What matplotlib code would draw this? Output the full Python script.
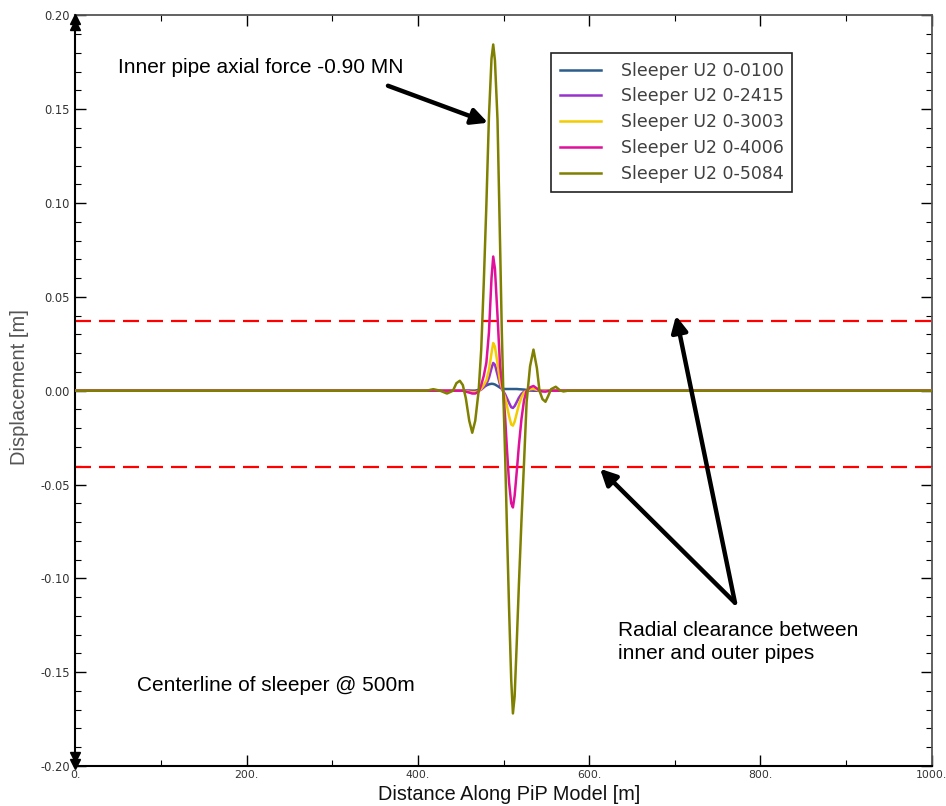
import matplotlib
matplotlib.use("Agg")
import matplotlib.pyplot as plt
from matplotlib.ticker import MultipleLocator, FuncFormatter

# ---------------- data ----------------
distance = [0, 400, 410, 418, 426, 434, 441, 445, 449, 452.5, 456, 460, 463.5, 467, 471, 474, 477,
            480, 483, 486, 488, 490, 493, 496, 498, 500, 502, 504, 506.5, 509, 511, 513,
            515.5, 518, 521, 524, 527, 531, 535, 539, 542, 545.5, 549, 552, 555.5, 561,
            566, 570, 575, 580, 600, 1000]

u2_0100 = [0, 0, 0, 0, 0, 0, 0, 0, 0, 0, 0, 0, 0, 0, 0.0005, 0.0012, 0.0020,
           0.0028, 0.0034, 0.0037, 0.0036, 0.0033, 0.0025, 0.0016, 0.0012, 0.0010, 0.0009, 0.0009, 0.0009, 0.0009, 0.0009, 0.0009,
           0.0009, 0.0008, 0.0007, 0.0006, 0.0004, 0.0001, 0, 0, 0, 0, 0, 0, 0, 0,
           0, 0, 0, 0, 0, 0]

u2_2415 = [0, 0, 0, 0, 0, 0, 0, 0, 0, 0, 0, 0, -0.0002, -0.0002, 0, 0.0006, 0.0018,
           0.0035, 0.0068, 0.0120, 0.0148, 0.0138, 0.0085, 0.0030, 0.0010, -0.0005, -0.0020, -0.0040, -0.0065, -0.0088, -0.0092, -0.0082,
           -0.0060, -0.0037, -0.0017, -0.0005, 0, 0.0004, 0.0005, 0.0002, 0, 0, 0, 0, 0, 0,
           0, 0, 0, 0, 0, 0]

u2_3003 = [0, 0, 0, 0, 0, 0, 0, 0, 0, 0, -0.0003, -0.0006, -0.0008, -0.0008, -0.0003, 0.0010, 0.0030,
           0.0055, 0.0110, 0.0200, 0.0254, 0.0235, 0.0145, 0.0050, 0.0018, -0.0010, -0.0040, -0.0080, -0.0135, -0.0180, -0.0186, -0.0165,
           -0.0120, -0.0075, -0.0035, -0.0010, 0, 0.0008, 0.0010, 0.0005, 0, 0, 0, 0, 0, 0,
           0, 0, 0, 0, 0, 0]

u2_4006 = [0, 0, 0, 0, 0, 0, 0, 0, 0, 0, -0.0005, -0.0010, -0.0015, -0.0015, -0.0005, 0.0030, 0.0080,
           0.0150, 0.0310, 0.0600, 0.0715, 0.0650, 0.0400, 0.0130, 0.0050, -0.0020, -0.0150, -0.0310, -0.0490, -0.0600, -0.0622, -0.0560,
           -0.0430, -0.0290, -0.0150, -0.0050, 0, 0.0018, 0.0025, 0.0012, 0, -0.0004, -0.0005, -0.0002, 0, 0,
           0, 0, 0, 0, 0, 0]

u2_5084 = [0, 0, 0, 0.0008, 0, -0.0015, 0, 0.0040, 0.0053, 0.0030, -0.0040, -0.0160, -0.0224, -0.0160, 0, 0.0220, 0.0580,
           0.0990, 0.1460, 0.1770, 0.1845, 0.1760, 0.1445, 0.0780, 0.0320, -0.0050, -0.0360, -0.0730, -0.1160, -0.1540, -0.1720, -0.1630,
           -0.1340, -0.1030, -0.0690, -0.0380, -0.0060, 0.0130, 0.0219, 0.0120, 0, -0.0045, -0.0059, -0.0030, 0.0008, 0.0021,
           0.0002, -0.0004, 0, 0, 0, 0]

series_labels = ["Sleeper U2 0-0100", "Sleeper U2 0-2415", "Sleeper U2 0-3003",
                 "Sleeper U2 0-4006", "Sleeper U2 0-5084"]
series_values = [u2_0100, u2_2415, u2_3003, u2_4006, u2_5084]
series_colors = ["#2B5C8A", "#9932CC", "#F2CC00", "#E0109B", "#808000"]

clearance_upper = 0.037
clearance_lower = -0.0405

x_ticks = [0, 200, 400, 600, 800, 1000]
y_ticks = [-0.20, -0.15, -0.10, -0.05, 0.00, 0.05, 0.10, 0.15, 0.20]

# ---------------- figure ----------------
fig = plt.figure(figsize=(9.46, 8.06), dpi=100)
ax = fig.add_axes([75.3 / 946, 40 / 806, 856.4 / 946, 750.6 / 806])

for vals, lab, col in zip(series_values, series_labels, series_colors):
    ax.plot(distance, vals, color=col, lw=1.8, label=lab, zorder=3,
            solid_joinstyle="round")

ax.axhline(clearance_upper, color="#FF0000", lw=1.6, linestyle=(0, (7.2, 3.6)), zorder=2)
ax.axhline(clearance_lower, color="#FF0000", lw=1.6, linestyle=(0, (7.2, 3.6)), zorder=2)

ax.set_xlim(0, 1000)
ax.set_ylim(-0.2, 0.2)
ax.set_xticks(x_ticks)
ax.set_yticks(y_ticks)
ax.xaxis.set_minor_locator(MultipleLocator(100))
ax.yaxis.set_minor_locator(MultipleLocator(0.01))
ax.xaxis.set_major_formatter(FuncFormatter(lambda v, p: f"{int(round(v))}."))
ax.yaxis.set_major_formatter(FuncFormatter(lambda v, p: f"{0.0 if abs(v) < 1e-9 else v:.2f}"))

ax.tick_params(which="major", direction="in", length=8, width=1.0, top=True, right=True,
               labelsize=8.3, labelcolor="#333333", pad=4)
ax.tick_params(which="minor", direction="in", length=4, width=0.8, top=True, right=True)
ax.tick_params(axis="x", which="major", pad=3, labelsize=7.8)

for s in ["left", "bottom"]:
    ax.spines[s].set_color("black")
    ax.spines[s].set_linewidth(1.5)
for s in ["top", "right"]:
    ax.spines[s].set_color("#555555")
    ax.spines[s].set_linewidth(1.3)

# arrowheads at the ends of the y axis
ax.plot([0, 0], [0.9956, 0.9866], transform=ax.transAxes, ls="none", marker="^",
        ms=7, color="black", clip_on=False, zorder=5)
ax.plot([0, 0], [0.0121, 0.0031], transform=ax.transAxes, ls="none", marker="v",
        ms=7, color="black", clip_on=False, zorder=5)

ax.set_xlabel("Distance Along PiP Model [m]", family="Liberation Sans", fontsize=14.3,
              color="#111111")
ax.xaxis.set_label_coords(0.507, -0.038)
ax.xaxis.label.set_va("center")
ax.set_ylabel("Displacement [m]", family="Liberation Sans", fontsize=14.5, color="#555555")
ax.yaxis.set_label_coords(-0.0646, 0.505)
ax.yaxis.label.set_va("center")

leg = ax.legend(loc="upper right", bbox_to_anchor=(0.837, 0.950), fancybox=False,
                framealpha=1, edgecolor="#222222", prop={"family": "DejaVu Sans", "size": 12.5},
                handlelength=2.4, handletextpad=1.1, labelspacing=0.45, borderpad=0.5,
                borderaxespad=0)
leg.get_frame().set_linewidth(1.2)
for t in leg.get_texts():
    t.set_color("#404040")
leg.set_zorder(6)

# annotations
tfont = dict(family="Liberation Sans", fontsize=15, color="black")
ax.text(50.1, 0.1725, "Inner pipe axial force -0.90 MN", ha="left", va="center", **tfont)
ax.text(72.3, -0.157, "Centerline of sleeper @ 500m", ha="left", va="center", **tfont)
ax.text(633.7, -0.1225, "Radial clearance between\ninner and outer pipes", ha="left",
        va="top", linespacing=1.27, **tfont)

aprops = dict(arrowstyle="-|>", lw=3.2, color="black", mutation_scale=24, shrinkA=0, shrinkB=0)
ax.annotate("", xy=(481.9, 0.1428), xytext=(365.1, 0.1625), arrowprops=aprops, zorder=7)
ax.annotate("", xy=(701.4, 0.040), xytext=(770.3, -0.113), arrowprops=aprops, zorder=7)
ax.annotate("", xy=(612.7, -0.0416), xytext=(770.3, -0.113), arrowprops=aprops, zorder=7)

fig.savefig("out.png", dpi=100)
